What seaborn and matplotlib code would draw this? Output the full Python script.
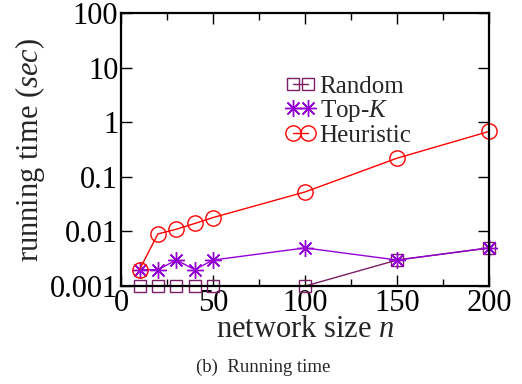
import matplotlib
matplotlib.use("Agg")
import matplotlib.pyplot as plt
import seaborn as sns
import numpy as np
from matplotlib.ticker import FixedLocator, NullLocator, FixedFormatter

sns.set_style("ticks")
plt.rcParams['font.family'] = ['Liberation Serif', 'DejaVu Serif']
plt.rcParams['mathtext.fontset'] = 'custom'
plt.rcParams['mathtext.rm'] = 'Liberation Serif'
plt.rcParams['mathtext.it'] = 'Liberation Serif:italic'

sizes = [10, 20, 30, 40, 50, 100, 150, 200]
random_t = [0.001, 0.001, 0.001, 0.001, 0.001, 0.001, 0.003, 0.005]
topk_t = [0.002, 0.002, 0.003, 0.002, 0.003, 0.005, 0.003, 0.005]
heur_t = [0.002, 0.009, 0.011, 0.014, 0.018, 0.053, 0.22, 0.68]

series_names = ["Random", "Top-$K$", "Heuristic"]
colors = ["#7b1e63", "#9400d3", "#ff0000"]
y_ticks = [0.001, 0.01, 0.1, 1, 10, 100]
y_labels = ["0.001", "0.01", "0.1", "1", "10", "100"]
x_ticks = [0, 50, 100, 150, 200]

fig = plt.figure(figsize=(5.22, 3.84), dpi=100)
ax = fig.add_axes([0.232, 0.255, 0.705, 0.711])

styles = [
    dict(marker="s", markersize=9, markerfacecolor="none"),
    dict(marker=(8, 2, 0), markersize=12),
    dict(marker="o", markersize=11, markerfacecolor="none"),
]
for vals, name, c, st in zip([random_t, topk_t, heur_t], series_names, colors, styles):
    sns.lineplot(x=sizes, y=vals, ax=ax, color=c, label=name, linewidth=1.0,
                 markeredgecolor=c, markeredgewidth=1.0, clip_on=False, **st)

ax.set_yscale("log")
ax.set_ylim(0.001, 100)
ax.set_xlim(0, 200)
ax.yaxis.set_major_locator(FixedLocator(y_ticks))
ax.yaxis.set_major_formatter(FixedFormatter(y_labels))
ax.yaxis.set_minor_locator(NullLocator())
ax.xaxis.set_major_locator(FixedLocator(x_ticks))
ax.xaxis.set_minor_locator(FixedLocator([25, 75, 125, 175]))

ax.tick_params(which="both", direction="in", top=True, right=True,
               labelsize=22, pad=2, width=1.0, colors="black")
ax.tick_params(which="major", length=8)
ax.tick_params(which="minor", length=5)
for s in ax.spines.values():
    s.set_linewidth(1.6)
    s.set_color("black")

ax.set_xlabel("network size $n$", fontsize=22, labelpad=-2)
ax.set_ylabel("running time ($sec$)", fontsize=22, labelpad=2)

ax.legend(loc="upper left", bbox_to_anchor=(0.40, 0.835), frameon=False,
          fontsize=18, numpoints=2, handlelength=1.2, handletextpad=0.15,
          labelspacing=0.0, borderpad=0.2)

fig.text(0.505, 0.043, "(b)  Running time", ha="center", va="center", fontsize=13.5)

fig.savefig("out.png", dpi=100)
